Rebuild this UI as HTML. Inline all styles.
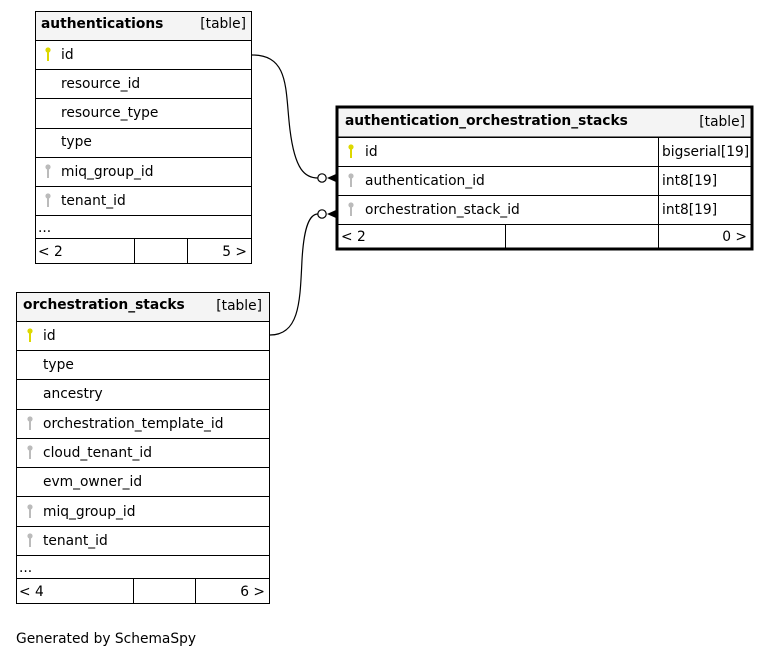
<!DOCTYPE html>
<html><head><meta charset="utf-8"><style>
html,body{margin:0;padding:0;background:#fff;}
svg{display:block;font-family:"DejaVu Sans","Liberation Sans",sans-serif;}
.t{font-size:13.8px;fill:#000;}
.b{font-size:13.8px;font-weight:bold;fill:#000;}
.s{font-size:13.8px;fill:#000;}
</style></head><body>
<svg width="771" height="659" viewBox="0 0 771 659" xmlns="http://www.w3.org/2000/svg">
<defs>
<g id="ky"><circle cx="0" cy="0" r="2.6" fill="#ddd800"/><rect x="-1" y="1" width="2" height="10" fill="#ddd800"/></g>
<g id="kg"><circle cx="0" cy="0" r="2.6" fill="#bbb"/><rect x="-1" y="1" width="2" height="10" fill="#bbb"/></g>
</defs>
<path d="M252,55 C290,55 285,90 290,130 C295,170 305,178 318,178" fill="none" stroke="#000" stroke-width="1.2"/>
<path d="M270,335 C300,335 300,300 302,260 C304,225 310,214 318,214" fill="none" stroke="#000" stroke-width="1.2"/>
<circle cx="322" cy="178" r="4.2" fill="#fff" stroke="#000" stroke-width="1.2"/>
<circle cx="322" cy="214" r="4.2" fill="#fff" stroke="#000" stroke-width="1.2"/>
<path d="M327,178 L336,174 L336,182 Z" fill="#000"/>
<path d="M327,214 L336,210 L336,218 Z" fill="#000"/>

<g stroke="#000" stroke-width="1" fill="none">
<rect x="35.5" y="11.5" width="216" height="29" fill="#f4f4f4"/>
<rect x="35.5" y="11.5" width="216" height="252"/>
<line x1="35" y1="69.5" x2="251" y2="69.5"/><line x1="35" y1="98.5" x2="251" y2="98.5"/>
<line x1="35" y1="128.5" x2="251" y2="128.5"/><line x1="35" y1="157.5" x2="251" y2="157.5"/>
<line x1="35" y1="186.5" x2="251" y2="186.5"/><line x1="35" y1="215.5" x2="251" y2="215.5"/>
<line x1="35" y1="238.5" x2="251" y2="238.5"/>
<line x1="134.5" y1="238" x2="134.5" y2="263"/><line x1="187.5" y1="238" x2="187.5" y2="263"/>
</g>
<text class="b" x="41" y="28">authentications</text>
<text class="t" x="246" y="28" text-anchor="end">[table]</text>
<use href="#ky" x="48" y="50"/><text class="t" x="61" y="59">id</text>
<text class="t" x="61" y="88">resource_id</text>
<text class="t" x="61" y="117">resource_type</text>
<text class="t" x="61" y="146">type</text>
<use href="#kg" x="48" y="167"/><text class="t" x="61" y="176">miq_group_id</text>
<use href="#kg" x="48" y="196"/><text class="t" x="61" y="205">tenant_id</text>
<text class="t" x="38" y="232">...</text>
<text class="t" x="38" y="256">&lt; 2</text>
<text class="t" x="247" y="256" text-anchor="end">5 &gt;</text>

<g stroke="#000" fill="none">
<rect x="337" y="107" width="415" height="30" fill="#f4f4f4" stroke-width="1"/>
<line x1="337" y1="137.5" x2="752" y2="137.5"/><line x1="337" y1="166.5" x2="752" y2="166.5"/>
<line x1="337" y1="195.5" x2="752" y2="195.5"/><line x1="337" y1="224.5" x2="752" y2="224.5"/>
<line x1="658.5" y1="137" x2="658.5" y2="249"/><line x1="505.5" y1="224" x2="505.5" y2="249"/>
<rect x="337" y="107" width="415" height="142" stroke-width="3"/>
</g>
<text class="b" x="345" y="125">authentication_orchestration_stacks</text>
<text class="t" x="745" y="126" text-anchor="end">[table]</text>
<use href="#ky" x="351" y="147"/><text class="t" x="365" y="156">id</text>
<text class="t" x="662" y="156">bigserial[19]</text>
<use href="#kg" x="351" y="176"/><text class="t" x="365" y="185">authentication_id</text>
<text class="t" x="662" y="185">int8[19]</text>
<use href="#kg" x="351" y="205"/><text class="t" x="365" y="214">orchestration_stack_id</text>
<text class="t" x="662" y="214">int8[19]</text>
<text class="t" x="341" y="241">&lt; 2</text>
<text class="t" x="747" y="241" text-anchor="end">0 &gt;</text>

<g stroke="#000" stroke-width="1" fill="none">
<rect x="16.5" y="292.5" width="253" height="29" fill="#f4f4f4"/>
<rect x="16.5" y="292.5" width="253" height="311"/>
<line x1="16" y1="350.5" x2="269" y2="350.5"/><line x1="16" y1="379.5" x2="269" y2="379.5"/>
<line x1="16" y1="409.5" x2="269" y2="409.5"/><line x1="16" y1="438.5" x2="269" y2="438.5"/>
<line x1="16" y1="467.5" x2="269" y2="467.5"/><line x1="16" y1="496.5" x2="269" y2="496.5"/>
<line x1="16" y1="526.5" x2="269" y2="526.5"/><line x1="16" y1="555.5" x2="269" y2="555.5"/>
<line x1="16" y1="578.5" x2="269" y2="578.5"/>
<line x1="133.5" y1="578" x2="133.5" y2="603"/><line x1="195.5" y1="578" x2="195.5" y2="603"/>
</g>
<text class="b" x="23" y="309">orchestration_stacks</text>
<text class="t" x="262" y="310" text-anchor="end">[table]</text>
<use href="#ky" x="30" y="331"/><text class="t" x="43" y="340">id</text>
<text class="t" x="43" y="369">type</text>
<text class="t" x="43" y="398">ancestry</text>
<use href="#kg" x="30" y="419"/><text class="t" x="43" y="428">orchestration_template_id</text>
<use href="#kg" x="30" y="448"/><text class="t" x="43" y="457">cloud_tenant_id</text>
<text class="t" x="43" y="486">evm_owner_id</text>
<use href="#kg" x="30" y="507"/><text class="t" x="43" y="516">miq_group_id</text>
<use href="#kg" x="30" y="536"/><text class="t" x="43" y="545">tenant_id</text>
<text class="t" x="19" y="572">...</text>
<text class="t" x="19" y="596">&lt; 4</text>
<text class="t" x="265" y="596" text-anchor="end">6 &gt;</text>

<text class="s" x="16" y="643">Generated by SchemaSpy</text>
</svg>
</body></html>
